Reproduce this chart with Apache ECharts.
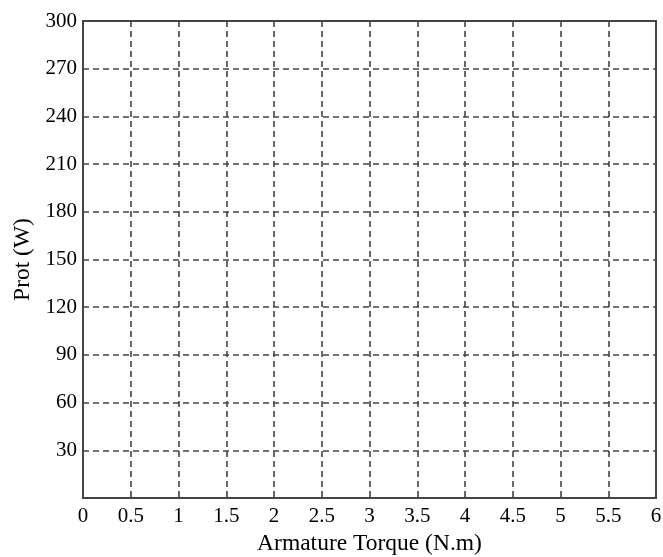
<!DOCTYPE html>
<html><head><meta charset="utf-8">
<script src="https://cdn.jsdelivr.net/npm/echarts@6/dist/echarts.min.js"></script>
<style>html,body{margin:0;padding:0;background:#fff}#c{width:663px;height:557px}</style>
</head><body><div id="c"></div>
<script>
const xTitle = 'Armature Torque (N.m)';
const yTitle = 'Prot (W)';
const xRange = [0, 6];
const xStep = 0.5;
const yRange = [0, 300];
const yStep = 30;
const seriesData = [];

const chart = echarts.init(document.getElementById('c'));
const font = 'Liberation Serif';
const axisCol = '#444';
chart.setOption({
  animation: false,
  backgroundColor: '#fff',
  grid: {left: 83, top: 21, width: 573, height: 477, show: true, borderColor: axisCol, borderWidth: 2,
    containLabel: false, outerBoundsMode: 'none'},
  xAxis: {
    type: 'value', min: xRange[0], max: xRange[1], interval: xStep,
    name: xTitle, nameLocation: 'middle', nameGap: 25,
    nameTextStyle: {fontFamily: font, fontSize: 23.5, color: '#000'},
    axisLine: {show: true, lineStyle: {color: axisCol, width: 2}},
    axisTick: {show: false},
    axisLabel: {fontFamily: font, fontSize: 21, color: '#000', margin: 8},
    splitLine: {show: true, lineStyle: {type: [6, 4], color: axisCol, width: 1.6}}
  },
  yAxis: {
    type: 'value', min: yRange[0], max: yRange[1], interval: yStep,
    name: yTitle, nameLocation: 'middle', nameGap: 43,
    nameTextStyle: {fontFamily: font, fontSize: 23.5, color: '#000'},
    axisLine: {show: true, lineStyle: {color: axisCol, width: 2}},
    axisTick: {show: false},
    axisLabel: {fontFamily: font, fontSize: 21, color: '#000', margin: 6, showMinLabel: false,
      formatter: v => v === 0 ? '' : String(v)},
    splitLine: {show: true, lineStyle: {type: [6, 4], color: axisCol, width: 1.6}}
  },
  series: [{type: 'line', data: seriesData}]
});
</script></body></html>
